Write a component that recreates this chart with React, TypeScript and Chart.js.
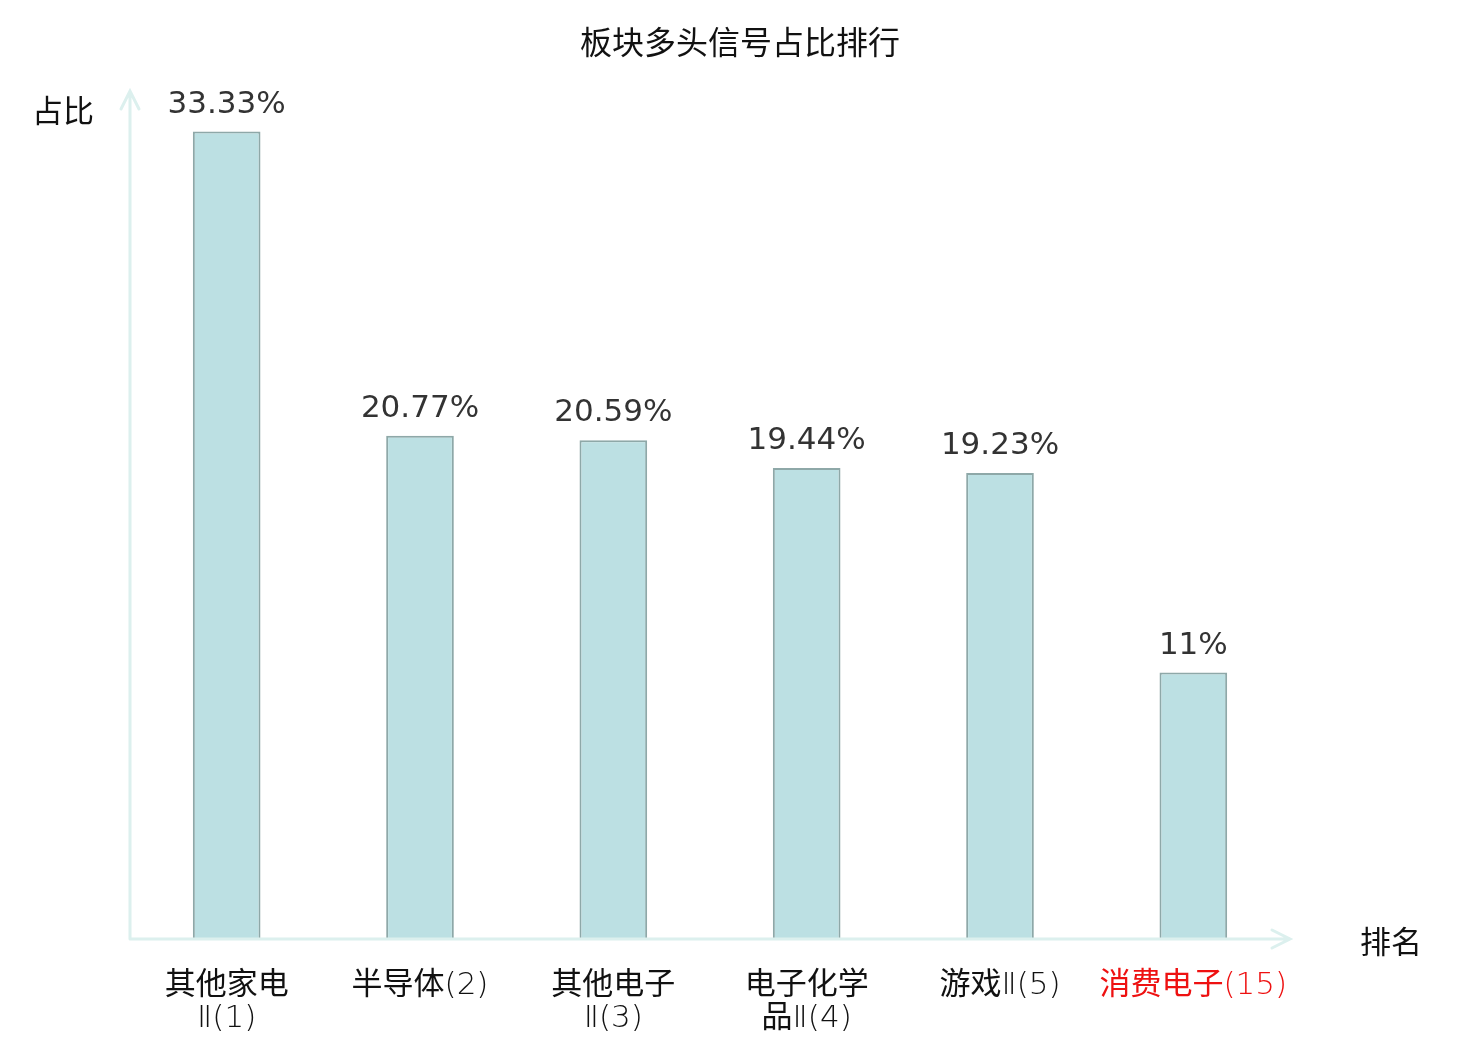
import React, { useEffect, useRef } from 'react';
import { Chart, registerables } from 'chart.js';

Chart.register(...registerables);

const categories: string[][] = [
  ['其他家电', 'Ⅱ(1)'],
  ['半导体(2)'],
  ['其他电子', 'Ⅱ(3)'],
  ['电子化学', '品Ⅱ(4)'],
  ['游戏Ⅱ(5)'],
  ['消费电子(15)'],
];
const ratios = [33.33, 20.77, 20.59, 19.44, 19.23, 11];
const valueLabels = ['33.33%', '20.77%', '20.59%', '19.44%', '19.23%', '11%'];
const labelColors = ['#111', '#111', '#111', '#111', '#111', '#ee1111'];

const CJK_FONT = '31px "Noto Sans CJK SC", "DejaVu Sans", sans-serif';
const LATIN_FONT = '200 31px "DejaVu Sans", sans-serif';
const AXIS_COLOR = '#dcf0ee';

const isCjk = (s: string) => /[\u4e00-\u9fff]/.test(s);

// draw mixed text: CJK runs in regular weight, latin runs in light DejaVu, shared baseline
const drawMixed = (ctx: CanvasRenderingContext2D, text: string, cx: number, baseline: number) => {
  const runs = text.match(/[\u4e00-\u9fff]+|[^\u4e00-\u9fff]+/g) || [];
  const widths = runs.map((r) => {
    ctx.font = isCjk(r) ? CJK_FONT : LATIN_FONT;
    return ctx.measureText(r).width;
  });
  let x = cx - widths.reduce((a, b) => a + b, 0) / 2;
  ctx.textAlign = 'left';
  ctx.textBaseline = 'alphabetic';
  runs.forEach((r, i) => {
    ctx.font = isCjk(r) ? CJK_FONT : LATIN_FONT;
    ctx.fillText(r, x, baseline);
    x += widths[i];
  });
  ctx.textAlign = 'center';
  ctx.textBaseline = 'middle';
};

const decorPlugin = {
  id: 'decor',
  afterDatasetsDraw(chart: any) {
    const { ctx, chartArea, scales } = chart;
    const xs = scales.x;
    const ys = scales.y;
    const { left, right, top, bottom } = chartArea;
    ctx.save();

    // axes with arrows
    ctx.strokeStyle = AXIS_COLOR;
    ctx.lineWidth = 3;
    ctx.lineCap = 'round';
    ctx.beginPath();
    ctx.moveTo(left, bottom);
    ctx.lineTo(right, bottom);
    ctx.moveTo(left, bottom);
    ctx.lineTo(left, top);
    ctx.moveTo(right - 18, bottom - 9);
    ctx.lineTo(right, bottom);
    ctx.lineTo(right - 18, bottom + 9);
    ctx.moveTo(left - 9, top + 18);
    ctx.lineTo(left, top);
    ctx.lineTo(left + 9, top + 18);
    ctx.stroke();

    // value labels
    ctx.fillStyle = '#333';
    ctx.font = '31px "DejaVu Sans", sans-serif';
    ctx.textAlign = 'center';
    ctx.textBaseline = 'middle';
    ratios.forEach((v, i) => {
      ctx.fillText(valueLabels[i], xs.getPixelForValue(i), ys.getPixelForValue(v) - 27);
    });

    // category labels
    categories.forEach((lines, i) => {
      ctx.fillStyle = labelColors[i];
      lines.forEach((line, j) => {
        drawMixed(ctx, line, xs.getPixelForValue(i), bottom + 55 + j * 33);
      });
    });

    // axis names and title
    ctx.fillStyle = '#111';
    ctx.font = '31px "Noto Sans CJK SC", sans-serif';
    ctx.fillText('占比', 63, 110);
    ctx.fillText('排名', 1391, 941);
    ctx.font = '32px "Noto Sans CJK SC", sans-serif';
    ctx.fillText('板块多头信号占比排行', 740, 42);
    ctx.restore();
  },
};

const App: React.FC = () => {
  const chartRef = useRef<HTMLCanvasElement | null>(null);

  useEffect(() => {
    document.body.style.margin = '0';
    const ctx = chartRef.current?.getContext('2d');
    if (!ctx) return;

    const chart = new Chart(ctx, {
      type: 'bar',
      data: {
        labels: categories.map((c) => c.join('')),
        datasets: [
          {
            data: ratios,
            backgroundColor: '#bce0e3',
            borderColor: '#8ea8a8',
            borderWidth: 2,
            categoryPercentage: 1,
            barPercentage: 0.35,
          },
        ],
      },
      options: {
        responsive: false,
        animation: false,
        layout: { padding: { left: 130, right: 190, top: 91, bottom: 101 } },
        plugins: {
          legend: { display: false },
          tooltip: { enabled: false },
        },
        scales: {
          x: { display: false },
          y: { display: false, min: 0, max: 35 },
        },
      },
      plugins: [decorPlugin],
    });

    return () => {
      chart.destroy();
    };
  }, []);

  return (
    <div style={{ width: 1480, height: 1040, background: '#fff' }}>
      <canvas ref={chartRef} width={1480} height={1040} />
    </div>
  );
};

export default App;
